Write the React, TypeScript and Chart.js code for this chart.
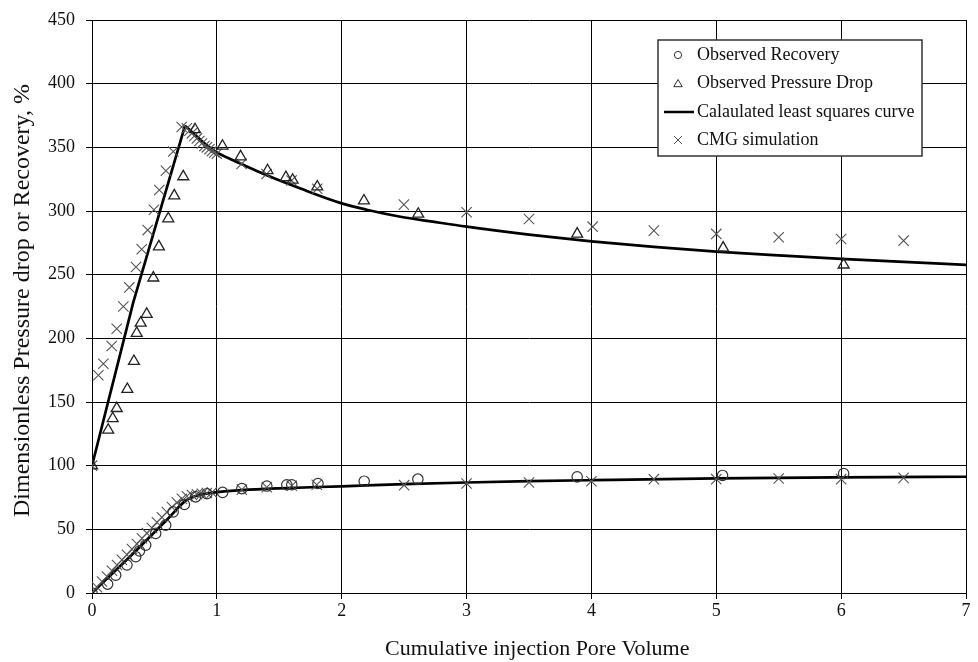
import React, { useEffect, useRef } from 'react';
import { Chart, registerables } from 'chart.js';

Chart.register(...registerables);

const FONT = '"Liberation Serif", "Times New Roman", serif';

// Observed Recovery (circles)
const recoveryObsX = [0, 0.125, 0.19, 0.28, 0.35, 0.38, 0.43, 0.51, 0.59, 0.65, 0.74, 0.83, 0.92, 1.046, 1.2, 1.4, 1.56, 1.6, 1.81, 2.18, 2.61, 3.886, 5.05, 6.02];
const recoveryObsY = [0, 7, 14, 22, 28.5, 33, 37.6, 46.8, 53.3, 63.7, 69.5, 75.5, 78, 79, 82, 84, 85, 85, 86, 87.8, 89.4, 91.2, 92.3, 93.8];

// Observed Pressure Drop (triangles)
const pressureObsX = [0, 0.13, 0.166, 0.198, 0.283, 0.336, 0.358, 0.39, 0.438, 0.491, 0.536, 0.611, 0.659, 0.731, 0.825, 1.045, 1.19, 1.406, 1.553, 1.607, 1.804, 2.178, 2.613, 3.886, 5.055, 6.02];
const pressureObsY = [100, 128, 137, 145, 160, 182, 204, 212, 219, 247.5, 272, 294, 312, 327, 364, 351, 342.7, 331.8, 326.4, 324.3, 319, 308, 297.6, 282, 271, 257.7];

// Calculated least squares curve - pressure drop (rising part, then decline)
const pressureRiseX = [0, 0.33, 0.745];
const pressureRiseY = [100, 228, 367];
const pressureDeclineX = [0.745, 0.8, 0.84, 0.92, 1.0, 1.13, 1.25, 1.4, 1.67, 2.0, 2.2, 2.47, 2.73, 3.0, 3.5, 4.0, 4.5, 5.0, 5.5, 6.0, 6.5, 7.0];
const pressureDeclineY = [367, 362, 358.5, 351.5, 346, 339.8, 334.5, 328, 317.6, 306, 301, 295.5, 291.6, 287.7, 281.5, 276.2, 271.8, 268.1, 265.1, 262.4, 260, 257.7];

// Calculated least squares curve - recovery
const recoveryFitX = [0, 0.35, 0.6, 0.75, 0.8, 0.85, 0.9, 0.95, 1.0, 1.2, 1.5, 2.0, 2.5, 3.0, 3.5, 4.0, 5.0, 6.0, 7.0];
const recoveryFitY = [0, 33, 57.5, 72.5, 75, 76.8, 77.8, 78.5, 79.2, 80.8, 82.2, 83.8, 85.5, 86.8, 87.8, 88.6, 90, 90.8, 91.3];

// CMG simulation (crosses) - pressure drop
const cmgPressureX = [0, 0.051, 0.091, 0.158, 0.198, 0.251, 0.299, 0.352, 0.398, 0.446, 0.496, 0.539, 0.592, 0.651, 0.718, 0.76, 0.78, 0.8, 0.82, 0.84, 0.86, 0.88, 0.9, 0.92, 0.94, 0.96, 0.98, 1.0, 1.198, 1.398, 1.598, 1.804, 2.498, 3.0, 3.5, 4.01, 4.5, 5.0, 5.5, 6.0, 6.5];
const cmgPressureY = [100, 171, 180, 194, 207.5, 225, 240, 256, 270, 285, 301, 316.5, 331.6, 346.7, 366, 365, 363, 361, 359, 357, 355, 353, 351, 350, 348.5, 347, 346, 345, 337, 329, 324, 317.5, 305, 299, 293.7, 287.7, 284.6, 282, 279.4, 278, 276.7];

// CMG simulation (crosses) - recovery
const cmgRecoveryX = [0, 0.04, 0.08, 0.12, 0.16, 0.2, 0.24, 0.28, 0.32, 0.36, 0.4, 0.44, 0.48, 0.52, 0.56, 0.6, 0.64, 0.68, 0.72, 0.76, 0.8, 0.84, 0.88, 0.92, 0.96, 1.2, 1.4, 1.6, 1.8, 2.5, 3.0, 3.5, 4.0, 4.5, 5.0, 5.5, 6.0, 6.5];
const cmgRecoveryY = [0, 4.5, 9, 13, 17.5, 22, 26, 30, 34.5, 38.5, 43, 47, 51, 55.5, 59.5, 63.5, 67.5, 71, 74, 76, 77, 77.5, 78, 78.5, 79, 81.2, 83, 84.2, 85, 84.7, 86, 86.8, 87.8, 89.4, 89.4, 89.9, 89.4, 90.4];

const legendLabels = ['Observed Recovery', 'Observed Pressure Drop', 'Calaulated least squares curve', 'CMG simulation'];
const xTitle = '\u00a0\u00a0\u00a0Cumulative injection Pore Volume';
const yTitle = '\u00a0\u00a0Dimensionless Pressure drop or Recovery, %';

const pts = (xs: number[], ys: number[]) => xs.map((x, i) => ({ x, y: ys[i] }));

const boxLegend = {
  id: 'boxLegend',
  afterDraw(chart: any) {
    const ctx = chart.ctx as CanvasRenderingContext2D;
    const l = 658, t = 40, r = 922, b = 156;
    ctx.save();
    ctx.fillStyle = '#fff';
    ctx.fillRect(l, t, r - l, b - t);
    ctx.strokeStyle = '#333';
    ctx.lineWidth = 1.5;
    ctx.strokeRect(l, t, r - l, b - t);
    const ys = [55, 83.5, 112, 140];
    const mx = 678;
    ctx.strokeStyle = '#333';
    ctx.lineWidth = 1;
    ctx.beginPath();
    ctx.arc(mx, ys[0], 3.6, 0, Math.PI * 2);
    ctx.stroke();
    ctx.beginPath();
    ctx.moveTo(mx, ys[1] - 4);
    ctx.lineTo(mx - 4.2, ys[1] + 3.2);
    ctx.lineTo(mx + 4.2, ys[1] + 3.2);
    ctx.closePath();
    ctx.stroke();
    ctx.strokeStyle = '#000';
    ctx.lineWidth = 2.5;
    ctx.beginPath();
    ctx.moveTo(664, ys[2]);
    ctx.lineTo(694, ys[2]);
    ctx.stroke();
    ctx.strokeStyle = '#555';
    ctx.lineWidth = 1;
    ctx.beginPath();
    ctx.moveTo(mx - 4, ys[3] - 4);
    ctx.lineTo(mx + 4, ys[3] + 4);
    ctx.moveTo(mx + 4, ys[3] - 4);
    ctx.lineTo(mx - 4, ys[3] + 4);
    ctx.stroke();
    ctx.fillStyle = '#111';
    ctx.font = `18px ${FONT}`;
    ctx.textBaseline = 'middle';
    ctx.textAlign = 'left';
    legendLabels.forEach((txt, i) => ctx.fillText(txt, 697, ys[i]));
    ctx.restore();
  },
};

export default function App() {
  const ref = useRef<HTMLCanvasElement>(null);
  useEffect(() => {
    if (!ref.current) return;
    const scatterBase = { showLine: false, pointHoverRadius: 0 };
    const lineBase = {
      showLine: true,
      pointRadius: 0,
      borderColor: '#000',
      borderWidth: 2.7,
      fill: false,
    };
    const chart = new Chart(ref.current, {
      type: 'scatter',
      data: {
        datasets: [
          {
            ...scatterBase,
            label: legendLabels[0],
            data: pts(recoveryObsX, recoveryObsY),
            pointStyle: 'circle',
            pointRadius: 5.2,
            pointBorderWidth: 1.2,
            borderColor: '#333',
            backgroundColor: 'rgba(0,0,0,0)',
          },
          {
            ...scatterBase,
            label: legendLabels[1],
            data: pts(pressureObsX, pressureObsY),
            pointStyle: 'triangle',
            pointRadius: 6.3,
            pointBorderWidth: 1.3,
            borderColor: '#222',
            backgroundColor: 'rgba(0,0,0,0)',
          },
          {
            ...scatterBase,
            label: legendLabels[3],
            data: pts(cmgPressureX, cmgPressureY),
            pointStyle: 'crossRot',
            pointRadius: 7.3,
            pointBorderWidth: 1.1,
            borderColor: '#555',
            backgroundColor: 'rgba(0,0,0,0)',
          },
          {
            ...scatterBase,
            label: legendLabels[3] + ' R',
            data: pts(cmgRecoveryX, cmgRecoveryY),
            pointStyle: 'crossRot',
            pointRadius: 7.3,
            pointBorderWidth: 1.1,
            borderColor: '#555',
            backgroundColor: 'rgba(0,0,0,0)',
          },
          {
            ...lineBase,
            label: legendLabels[2] + ' rise',
            data: pts(pressureRiseX, pressureRiseY),
            tension: 0,
          },
          {
            ...lineBase,
            label: legendLabels[2],
            data: pts(pressureDeclineX, pressureDeclineY),
            cubicInterpolationMode: 'monotone',
          },
          {
            ...lineBase,
            label: legendLabels[2] + ' R',
            data: pts(recoveryFitX, recoveryFitY),
            cubicInterpolationMode: 'monotone',
          },
        ],
      },
      options: {
        animation: false,
        responsive: false,
        devicePixelRatio: 1,
        events: [],
        layout: { padding: { left: 0, top: 19, right: 12, bottom: 0 } },
        plugins: {
          legend: { display: false },
          tooltip: { enabled: false },
        },
        scales: {
          x: {
            type: 'linear',
            min: 0,
            max: 7,
            ticks: {
              stepSize: 1,
              color: '#111',
              font: { family: FONT, size: 18 },
              padding: 1,
            },
            grid: { color: '#000', lineWidth: 1, drawTicks: true, tickLength: 6 },
            border: { display: true, color: '#000', width: 1 },
            title: {
              display: true,
              text: xTitle,
              color: '#111',
              font: { family: FONT, size: 22 },
              padding: { top: 0, bottom: 0 },
            },
            afterFit: (s: any) => {
              s.height = 69;
            },
          },
          y: {
            type: 'linear',
            min: 0,
            max: 450,
            ticks: {
              stepSize: 50,
              color: '#111',
              font: { family: FONT, size: 18, lineHeight: 1 },
              padding: 11,
            },
            grid: { color: '#000', lineWidth: 1, drawTicks: true, tickLength: 6 },
            border: { display: true, color: '#000', width: 1 },
            title: {
              display: true,
              text: yTitle,
              color: '#111',
              font: { family: FONT, size: 24 },
              padding: { top: 8, bottom: 0 },
            },
            afterFit: (s: any) => {
              s.width = 92;
            },
          },
        },
      },
      plugins: [boxLegend],
    });
    return () => chart.destroy();
  }, []);
  return (
    <div style={{ position: 'fixed', left: 0, top: 0, width: 978, height: 662, background: '#fff' }}>
      <canvas ref={ref} width={978} height={662} style={{ width: 978, height: 662, display: 'block' }} />
    </div>
  );
}
